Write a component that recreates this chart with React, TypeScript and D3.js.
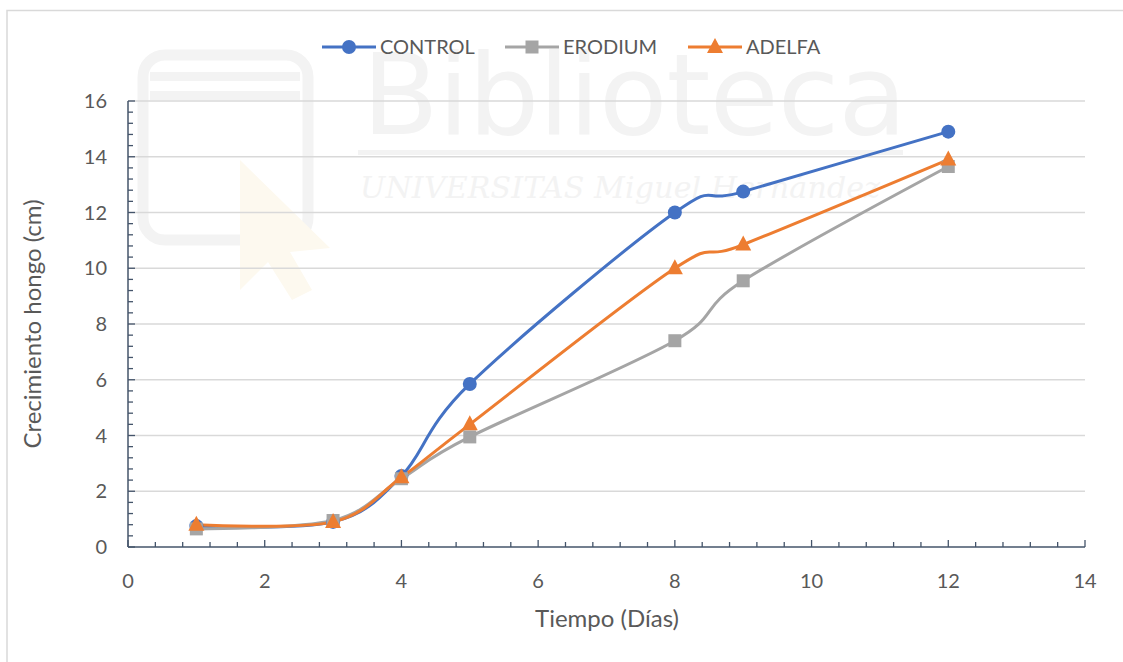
import React from "react";
import * as d3 from "d3";

// Days of measurement and fungal growth (cm) per treatment
const days = [1, 3, 4, 5, 8, 9, 12];
const control = [0.75, 0.9, 2.55, 5.85, 12.0, 12.75, 14.9];
const erodium = [0.65, 0.95, 2.45, 3.95, 7.4, 9.55, 13.65];
const adelfa = [0.8, 0.9, 2.5, 4.4, 10.0, 10.85, 13.9];

const seriesNames = ["CONTROL", "ERODIUM", "ADELFA"];
const seriesColors = ["#4472C4", "#A5A5A5", "#ED7D31"];
const seriesMarkers = ["circle", "square", "triangle"];

const xTicks = [0, 2, 4, 6, 8, 10, 12, 14];
const yTicks = [0, 2, 4, 6, 8, 10, 12, 14, 16];

const W = 1123;
const H = 662;
const FONT = "Lato, 'Open Sans', sans-serif";

function Marker({ kind, x, y, color }: { kind: string; x: number; y: number; color: string }) {
  if (kind === "circle") return <circle cx={x} cy={y} r={7} fill={color} />;
  if (kind === "square") return <rect x={x - 6.5} y={y - 6.5} width={13} height={13} fill={color} />;
  const s = 8;
  return (
    <path
      d={`M${x},${y - s - 1} L${x + s},${y + s - 2} L${x - s},${y + s - 2} Z`}
      fill={color}
    />
  );
}

export default function App() {
  const x = d3.scaleLinear().domain([0, 14]).range([128, 1085]);
  const y = d3.scaleLinear().domain([0, 16]).range([547, 101]);

  const allSeries = [control, erodium, adelfa];
  const line = d3
    .line<[number, number]>()
    .x((d) => x(d[0]))
    .y((d) => y(d[1]))
    .curve(d3.curveCardinal.tension(0));

  const minorX = d3.range(0, 14.0001, 0.4);
  const minorY = d3.range(0, 16.0001, 0.4);

  const legendX = [322, 505, 688];

  return (
    <svg
      width={W}
      height={H}
      style={{ position: "absolute", left: 0, top: 0, background: "#fff" }}
      fontFamily={FONT}
    >
      <rect x={0} y={0} width={W} height={H} fill="#fff" />
      {/* chart frame */}
      <rect x={7} y={10.5} width={W + 20} height={H + 20} fill="none" stroke="#d9d9d9" strokeWidth={1.5} />

      {/* library watermark */}
      <g>
        <rect x={143} y={55} width={165} height={185} rx={22} fill="none" stroke="#f3f3f3" strokeWidth={11} />
        <rect x={150} y={72} width={150} height={9} fill="#f3f3f3" />
        <rect x={150} y={91} width={150} height={9} fill="#f3f3f3" />
        <path d="M240,160 L240,290 L268,262 L292,300 L312,290 L290,252 L330,248 Z" fill="#fdf9ef" />
        <text x={362} y={134} fontSize={112} fill="#f3f3f3" fontFamily="'DejaVu Sans', sans-serif" textLength={545}>
          Biblioteca
        </text>
        <rect x={358} y={150} width={545} height={5} fill="#f3f3f3" />
        <text x={360} y={198} fontSize={30} fill="#f3f3f3" fontFamily="'DejaVu Serif', serif" fontStyle="italic" textLength={520}>
          UNIVERSITAS Miguel Hernández
        </text>
      </g>

      {/* gridlines */}
      {yTicks.slice(1).map((t) => (
        <line key={t} x1={x(0)} x2={x(14)} y1={y(t)} y2={y(t)} stroke="#d9d9d9" strokeWidth={1.5} />
      ))}

      {/* axes */}
      <line x1={x(0)} x2={x(0)} y1={y(16)} y2={y(0)} stroke="#44546A" strokeWidth={1.5} />
      <line x1={x(0)} x2={x(14)} y1={y(0)} y2={y(0)} stroke="#44546A" strokeWidth={1.5} />
      {minorY.map((t, i) => (
        <line key={"my" + i} x1={x(0)} x2={x(0) + (i % 5 === 0 ? 7 : 5)} y1={y(t)} y2={y(t)} stroke="#44546A" strokeWidth={1.3} />
      ))}
      {minorX.map((t, i) => (
        <line key={"mx" + i} x1={x(t)} x2={x(t)} y1={y(0)} y2={y(0) - (i % 5 === 0 ? 7 : 5)} stroke="#44546A" strokeWidth={1.3} />
      ))}

      {/* tick labels */}
      {yTicks.map((t) => (
        <text key={"yl" + t} x={107} y={y(t)} dy="0.35em" textAnchor="end" fontSize={20} fill="#595959">
          {t}
        </text>
      ))}
      {xTicks.map((t) => (
        <text key={"xl" + t} x={x(t)} y={588} textAnchor="middle" fontSize={20} fill="#595959">
          {t}
        </text>
      ))}

      {/* axis titles */}
      <text x={607} y={627} textAnchor="middle" fontSize={24} fill="#595959">
        Tiempo (Días)
      </text>
      <text
        transform={`translate(41,${(y(0) + y(16)) / 2}) rotate(-90)`}
        textAnchor="middle"
        fontSize={24}
        fill="#595959"
      >
        Crecimiento hongo (cm)
      </text>

      {/* series */}
      {allSeries.map((vals, si) => {
        const pts = days.map((d, i) => [d, vals[i]] as [number, number]);
        return (
          <path
            key={seriesNames[si]}
            d={line(pts) || ""}
            fill="none"
            stroke={seriesColors[si]}
            strokeWidth={3}
            strokeLinecap="round"
          />
        );
      })}
      {allSeries.map((vals, si) => (
        <g key={"m" + si}>
          {days.map((d, i) => (
            <Marker key={i} kind={seriesMarkers[si]} x={x(d)} y={y(vals[i])} color={seriesColors[si]} />
          ))}
        </g>
      ))}

      {/* legend */}
      {seriesNames.map((name, i) => (
        <g key={"lg" + name}>
          <line x1={legendX[i]} x2={legendX[i] + 54} y1={47} y2={47} stroke={seriesColors[i]} strokeWidth={3} />
          <Marker kind={seriesMarkers[i]} x={legendX[i] + 27} y={47} color={seriesColors[i]} />
          <text x={legendX[i] + 58} y={47} dy="0.35em" fontSize={20} fill="#595959">
            {name}
          </text>
        </g>
      ))}
    </svg>
  );
}
